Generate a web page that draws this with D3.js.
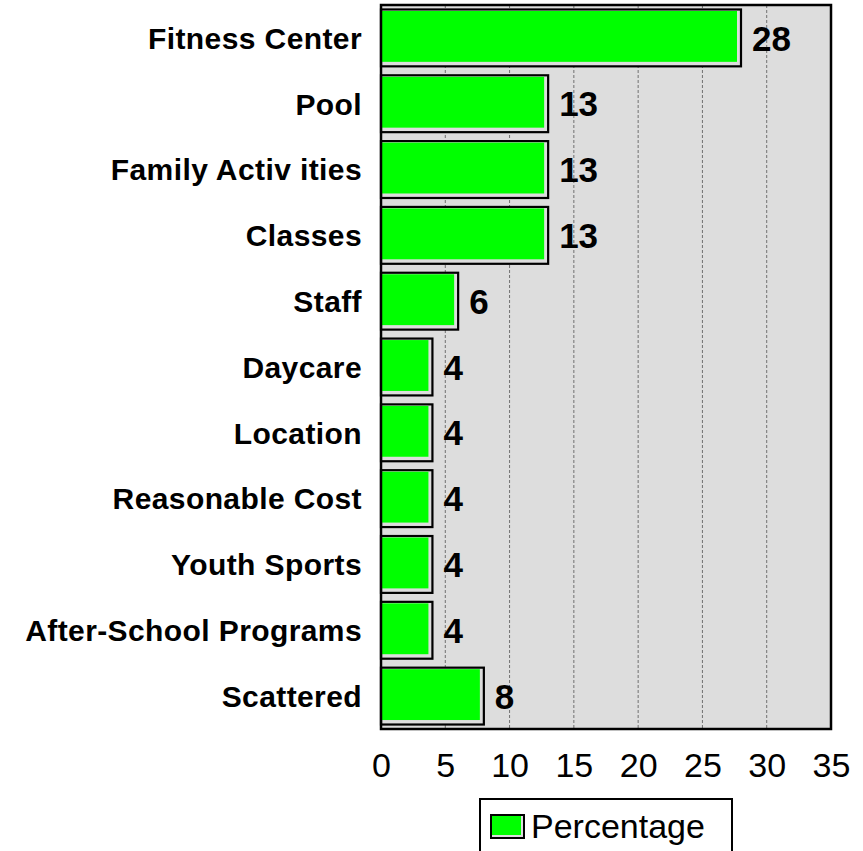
<!DOCTYPE html>
<html>
<head>
<meta charset="utf-8">
<script src="https://cdn.jsdelivr.net/npm/d3@7"></script>
<style>
  html, body { margin: 0; padding: 0; background: white; }
  svg { display: block; font-family: Arial, 'Liberation Sans', sans-serif; }
</style>
</head>
<body>
<svg id="chart" width="863" height="851"></svg>
<script>
// chart data
const categories = ['Fitness Center', 'Pool', 'Family Activ ities', 'Classes', 'Staff', 'Daycare',
  'Location', 'Reasonable Cost', 'Youth Sports', 'After-School Programs', 'Scattered']
const percentages = [28, 13, 13, 13, 6, 4, 4, 4, 4, 4, 8]
const xTicks = [0, 5, 10, 15, 20, 25, 30, 35]
const seriesName = 'Percentage'

const plot = { left: 381, right: 831, top: 5, bottom: 729 }
const bg = '#dddddd'
const green = '#00ff00'

const svg = d3.select('#chart')

const x = d3.scaleLinear()
  .domain([0, 35])
  .range([plot.left, plot.right])

const y = d3.scaleBand()
  .domain(categories)
  .range([plot.top, plot.bottom])
  .paddingInner(0.136)
  .paddingOuter(0.068)

// plot background
svg.append('rect')
  .attr('x', plot.left)
  .attr('y', plot.top)
  .attr('width', plot.right - plot.left)
  .attr('height', plot.bottom - plot.top)
  .attr('fill', bg)

// dashed grid lines
svg.append('g')
  .selectAll('line')
  .data(xTicks.filter(d => d > 0 && d < 35))
  .join('line')
  .attr('x1', d => x(d))
  .attr('x2', d => x(d))
  .attr('y1', plot.top)
  .attr('y2', plot.bottom)
  .attr('stroke', '#707070')
  .attr('stroke-width', 1)
  .attr('stroke-dasharray', '3,2')

// bars: black frame with a light shadow strip, green face
const bars = svg.append('g')
  .selectAll('g')
  .data(categories.map((c, i) => ({ c, v: percentages[i] })))
  .join('g')

bars.append('rect')
  .attr('x', x(0))
  .attr('y', d => y(d.c))
  .attr('width', d => x(d.v) - x(0))
  .attr('height', y.bandwidth())
  .attr('fill', bg)
  .attr('stroke', 'black')
  .attr('stroke-width', 2.2)

bars.append('rect')
  .attr('x', x(0) + 1)
  .attr('y', d => y(d.c) + 1.5)
  .attr('width', d => x(d.v) - x(0) - 5)
  .attr('height', y.bandwidth() - 6)
  .attr('fill', green)

// value labels
bars.append('text')
  .attr('x', d => x(d.v) + 11)
  .attr('y', d => y(d.c) + y.bandwidth() / 2)
  .attr('dy', '0.36em')
  .attr('font-size', 35)
  .attr('font-weight', 'bold')
  .attr('fill', 'black')
  .text(d => d.v)

// plot border
svg.append('rect')
  .attr('x', plot.left)
  .attr('y', plot.top)
  .attr('width', plot.right - plot.left)
  .attr('height', plot.bottom - plot.top)
  .attr('fill', 'none')
  .attr('stroke', 'black')
  .attr('stroke-width', 2.5)

// category labels
svg.append('g')
  .selectAll('text')
  .data(categories)
  .join('text')
  .attr('x', 362)
  .attr('y', d => y(d) + y.bandwidth() / 2)
  .attr('dy', '0.36em')
  .attr('text-anchor', 'end')
  .attr('font-size', 30)
  .attr('font-weight', 'bold')
  .attr('letter-spacing', 0.4)
  .attr('fill', 'black')
  .text(d => d)

// x axis tick labels
const xAxis = d3.axisBottom(x).tickValues(xTicks).tickSize(0).tickPadding(0)
const axisG = svg.append('g')
  .attr('transform', `translate(0,${plot.bottom})`)
  .call(xAxis)
axisG.select('.domain').remove()
axisG.selectAll('text')
  .attr('y', 48)
  .attr('dy', 0)
  .attr('font-size', 34)
  .attr('font-family', 'Arial, Liberation Sans, sans-serif')
  .attr('fill', 'black')

// legend
const legend = svg.append('g')
legend.append('rect')
  .attr('x', 480)
  .attr('y', 799)
  .attr('width', 252)
  .attr('height', 70)
  .attr('fill', 'white')
  .attr('stroke', 'black')
  .attr('stroke-width', 2)
legend.append('rect')
  .attr('x', 491)
  .attr('y', 815)
  .attr('width', 33)
  .attr('height', 23)
  .attr('fill', bg)
  .attr('stroke', 'black')
  .attr('stroke-width', 2)
legend.append('rect')
  .attr('x', 492)
  .attr('y', 816)
  .attr('width', 29)
  .attr('height', 19)
  .attr('fill', green)
legend.append('text')
  .attr('x', 531)
  .attr('y', 838)
  .attr('font-size', 34)
  .attr('fill', 'black')
  .text(seriesName)
</script>
</body>
</html>
